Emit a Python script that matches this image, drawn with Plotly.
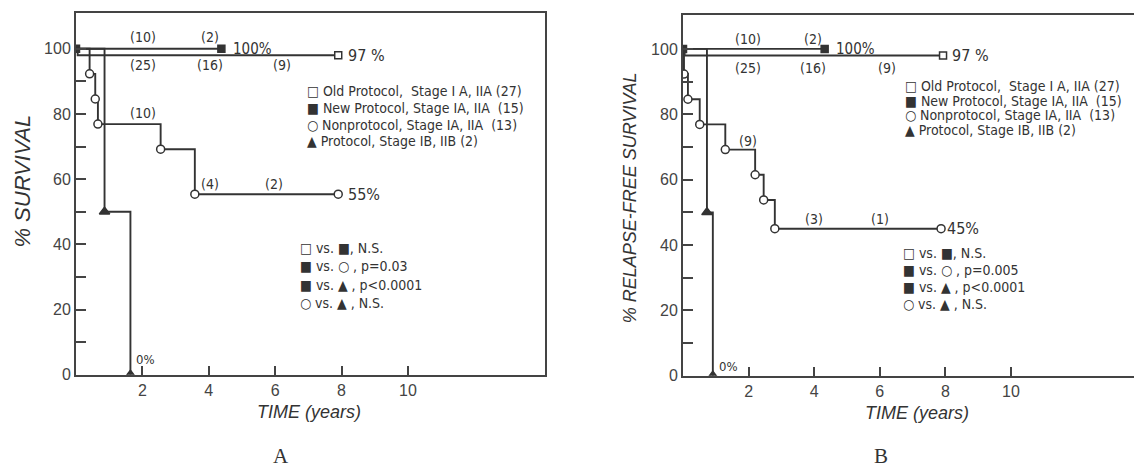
import plotly.graph_objects as go

W, H = 1142, 469

# ---------------- data ----------------
# Panel A : % survival
a_old_t = [0, 0.05, 7.9]
a_old_s = [100, 98, 98]
a_new_t = [0, 4.38]
a_new_s = [100, 100]
a_non_t = [0, 0.41, 0.58, 0.66, 2.55, 3.58, 7.9]
a_non_s = [100, 92.3, 84.6, 76.9, 69.2, 55.4, 55.4]
a_ib_t = [0, 0.86, 1.64]
a_ib_s = [100, 50, 0]

# Panel B : % relapse-free survival
b_old_t = [0, 0.05, 7.93]
b_old_s = [100, 98, 98]
b_new_t = [0, 4.32]
b_new_s = [100, 100]
b_non_t = [0, 0.03, 0.15, 0.51, 1.29, 2.2, 2.46, 2.8, 7.87]
b_non_s = [100, 92.3, 84.6, 76.9, 69.2, 61.5, 53.8, 45, 45]
b_ib_t = [0, 0.73, 0.91]
b_ib_s = [100, 50, 0]

# numbers at risk
a_risk_top = ["(10)", "(2)"]
a_risk_old = ["(25)", "(16)", "(9)"]
a_risk_non = ["(10)", "(4)", "(2)"]
b_risk_top = ["(10)", "(2)"]
b_risk_old = ["(25)", "(16)", "(9)"]
b_risk_non = ["(9)", "(3)", "(1)"]

legend_rows = [
    "□ Old Protocol,  Stage I A, IIA (27)",
    "■ New Protocol, Stage IA, IIA  (15)",
    "○ Nonprotocol, Stage IA, IIA  (13)",
    "▲ Protocol, Stage IB, IIB (2)",
]
a_stats = ["□ vs. ■, N.S.", "■ vs. ○ , p=0.03", "■ vs. ▲ , p<0.0001", "○ vs. ▲ , N.S."]
b_stats = ["□ vs. ■, N.S.", "■ vs. ○ , p=0.005", "■ vs. ▲ , p<0.0001", "○ vs. ▲ , N.S."]

x_ticks = [2, 4, 6, 8, 10]
y_ticks = list(range(0, 101, 10))
y_ticktext = [str(v) if v % 20 == 0 else "" for v in y_ticks]

# ---------------- styling ----------------
INK = "#333333"
FONT = "Liberation Sans Narrow, DejaVu Sans Condensed, Liberation Sans, DejaVu Sans, sans-serif"
SANS = "Liberation Sans, DejaVu Sans, sans-serif"
LW = 1.9

fig = go.Figure()


def curve(t, s, xa, ya, symbol, fill, mark_idx, size):
    fig.add_trace(go.Scatter(x=t, y=s, mode="lines", line=dict(color=INK, width=LW, shape="hv"),
                             xaxis=xa, yaxis=ya, showlegend=False, hoverinfo="skip"))
    fig.add_trace(go.Scatter(x=[t[i] for i in mark_idx], y=[s[i] for i in mark_idx], mode="markers",
                             marker=dict(symbol=symbol, size=size, color=fill,
                                         line=dict(color=INK, width=1.5)),
                             xaxis=xa, yaxis=ya, showlegend=False, hoverinfo="skip"))


for (xa, ya, old_t, old_s, new_t, new_s, non_t, non_s, ib_t, ib_s) in [
    ("x", "y", a_old_t, a_old_s, a_new_t, a_new_s, a_non_t, a_non_s, a_ib_t, a_ib_s),
    ("x2", "y2", b_old_t, b_old_s, b_new_t, b_new_s, b_non_t, b_non_s, b_ib_t, b_ib_s),
]:
    curve(non_t, non_s, xa, ya, "circle", "white", list(range(1, len(non_t))), 8)
    curve(ib_t, ib_s, xa, ya, "triangle-up", INK, [1, 2], 9)
    curve(old_t, old_s, xa, ya, "square", "white", [len(old_t) - 1], 7)
    curve(new_t, new_s, xa, ya, "square", INK, [0, 1], 7)


def P(xp, yp):
    return dict(x=xp / W, y=1 - yp / H, xref="paper", yref="paper")


ann = []


def txt(text, size=14, xanchor="center", yanchor="middle", family=FONT, **pos):
    ann.append(dict(text=text, showarrow=False, xanchor=xanchor, yanchor=yanchor,
                    font=dict(family=family, size=size, color=INK), **pos))


def dat(xr, yr, x, y):
    return dict(x=x, y=y, xref=xr, yref=yr)


# Panel A annotations
for lab, x in zip(a_risk_top, [2.02, 4.03]):
    txt(lab, 14, **dat("x", "y", x, 103.5))
for lab, x in zip(a_risk_old, [2.02, 4.03, 6.2]):
    txt(lab, 14, **dat("x", "y", x, 95.0))
txt(a_risk_non[0], 14, **dat("x", "y", 2.02, 80.2))
for lab, x in zip(a_risk_non[1:], [4.05, 5.98]):
    txt(lab, 14, **dat("x", "y", x, 58.6))
txt("100%", 15, xanchor="left", **dat("x", "y", a_new_t[-1] + 0.28, a_new_s[-1]))
txt("97 %", 16, xanchor="left", **dat("x", "y", a_old_t[-1] + 0.22, a_old_s[-1]))
txt("55%", 16, xanchor="left", **dat("x", "y", a_non_t[-1] + 0.22, a_non_s[-1]))
txt("0%", 13, xanchor="left", **dat("x", "y", a_ib_t[-1] + 0.1, 4.6))

# Panel B annotations
for lab, x in zip(b_risk_top, [1.98, 3.96]):
    txt(lab, 14, **dat("x2", "y2", x, 103.0))
for lab, x in zip(b_risk_old, [1.98, 3.96, 6.23]):
    txt(lab, 14, **dat("x2", "y2", x, 94.2))
txt(b_risk_non[0], 14, **dat("x2", "y2", 1.98, 71.9))
for lab, x in zip(b_risk_non[1:], [4.01, 6.0]):
    txt(lab, 14, **dat("x2", "y2", x, 48.0))
txt("100%", 15, xanchor="left", **dat("x2", "y2", b_new_t[-1] + 0.28, b_new_s[-1]))
txt("97 %", 16, xanchor="left", **dat("x2", "y2", b_old_t[-1] + 0.2, b_old_s[-1]))
txt("45%", 16, xanchor="left", **dat("x2", "y2", b_non_t[-1] + 0.12, b_non_s[-1]))
txt("0%", 13, xanchor="left", **dat("x2", "y2", b_ib_t[-1] + 0.12, 2.8))

# legends
for i, row in enumerate(legend_rows):
    txt(row, 14, xanchor="left", **P(297, 85 + 17 * i))
    txt(row, 14, xanchor="left", **P(895, 80 + 14.7 * i))
for i, row in enumerate(a_stats):
    txt(row, 14, xanchor="left", **P(290, 245 + 18.5 * i))
for i, row in enumerate(b_stats):
    txt(row, 14, xanchor="left", **P(893, 249.3 + 17.5 * i))

# axis titles
ann.append(dict(text="<i>% SURVIVAL</i>", showarrow=False, textangle=-90, **P(15, 177),
                xanchor="center", yanchor="middle",
                font=dict(family=SANS, size=22, color=INK)))
ann.append(dict(text="<i>% RELAPSE-FREE SURVIVAL</i>", showarrow=False, textangle=-90, **P(622, 194),
                xanchor="center", yanchor="middle",
                font=dict(family=SANS, size=18, color=INK)))
txt("<i>TIME (years)</i>", 18, family=SANS, **P(301, 412))
txt("<i>TIME (years)</i>", 18, family=SANS, **P(909, 413))
txt("A", 21, family="Liberation Serif, DejaVu Serif, serif", **P(273, 457))
txt("B", 21, family="Liberation Serif, DejaVu Serif, serif", **P(873, 457))

axis_common = dict(showline=True, linewidth=2, linecolor="#444", mirror=True, showgrid=False,
                   zeroline=False, ticks="inside", tickwidth=2, tickcolor="#444",
                   tickfont=dict(family=SANS, size=16, color="#444"))

xa_common = dict(axis_common, tickvals=x_ticks, ticktext=[str(v) for v in x_ticks], ticklen=9)
ya_common = dict(axis_common, tickvals=y_ticks, ticktext=y_ticktext, ticklen=10)

fig.update_layout(
    width=W, height=H, margin=dict(l=0, r=0, t=0, b=0),
    paper_bgcolor="white", plot_bgcolor="white", showlegend=False,
    xaxis=dict(xa_common, domain=[68 / W, 537 / W], range=[0, 14.13], anchor="y"),
    yaxis=dict(ya_common, domain=[1 - 374 / H, 1 - 5 / H], range=[0, 111.0], anchor="x"),
    xaxis2=dict(xa_common, domain=[675 / W, 1139 / W], range=[0, 14.15], anchor="y2"),
    yaxis2=dict(ya_common, domain=[1 - 375 / H, 1 - 6.7 / H], range=[0, 110.5], anchor="x2"),
    annotations=ann,
)

fig.write_html("out.html")
